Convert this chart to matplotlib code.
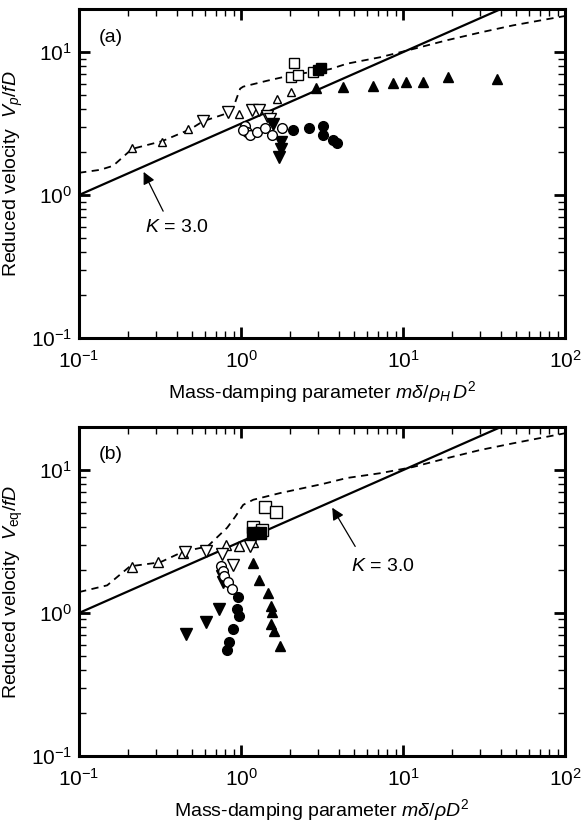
import numpy as np
import matplotlib.pyplot as plt

plt.rcParams['font.family'] = ['Liberation Sans', 'DejaVu Sans']
plt.rcParams['mathtext.fontset'] = 'custom'
plt.rcParams['mathtext.it'] = 'Liberation Sans:italic'
plt.rcParams['mathtext.rm'] = 'Liberation Sans'

# K = 3.0 line (same in both panels)
k_x = [0.1, 100]
k_y = [1.0, 31.6]

# ---- panel (a) ----
a_dash_x = [0.1, 0.135, 0.162, 0.187, 0.212, 0.325, 0.484, 0.582, 0.855, 0.918, 0.986,
            1.03, 1.445, 2.09, 3.54, 4.51, 7.2, 11.5, 18.6, 29.8, 47.9, 100]
a_dash_y = [1.43, 1.50, 1.60, 1.85, 2.10, 2.38, 2.88, 3.28, 3.79, 4.44, 5.55,
            5.73, 6.3, 6.93, 7.6, 8.3, 9.2, 10.5, 12.1, 13.7, 15.4, 17.9]

a_tri_open_x = [0.212, 0.325, 0.47, 0.97, 1.67, 2.04]
a_tri_open_y = [2.13, 2.34, 2.88, 3.66, 4.73, 5.28]
a_inv_open_x = [0.58, 0.83, 1.17, 1.29, 1.45, 1.5]
a_inv_open_y = [3.28, 3.79, 3.91, 3.91, 3.55, 3.38]
a_inv_fill_x = [1.58, 1.77, 1.75, 1.72]
a_inv_fill_y = [3.13, 2.34, 2.1, 1.85]
a_circ_open_x = [1.06, 1.09, 1.13, 1.25, 1.4, 1.55, 1.79, 1.03]
a_circ_open_y = [3.03, 2.75, 2.63, 2.75, 2.93, 2.63, 2.93, 2.85]
a_circ_fill_x = [2.09, 2.63, 3.2, 3.2, 3.7, 3.92]
a_circ_fill_y = [2.84, 2.93, 3.03, 2.63, 2.42, 2.31]
a_sq_open_x = [2.12, 2.04, 2.25, 2.78]
a_sq_open_y = [8.4, 6.7, 6.93, 7.28]
a_sq_fill_x = [2.99, 3.1]
a_sq_fill_y = [7.5, 7.74]
a_tri_fill_x = [2.9, 4.27, 6.53, 8.67, 10.4, 13.3, 19, 38]
a_tri_fill_y = [5.6, 5.73, 5.82, 6.1, 6.2, 6.2, 6.7, 6.5]

# ---- panel (b) ----
b_dash_x = [0.1, 0.149, 0.206, 0.316, 0.44, 0.62, 0.82, 0.92, 1.03, 1.19, 1.74,
            3.2, 4.5, 7.2, 11.5, 18.6, 29.8, 47.9, 100]
b_dash_y = [1.40, 1.56, 2.12, 2.26, 2.69, 2.92, 3.95, 4.72, 5.71, 6.2, 6.9,
            8.0, 8.8, 9.5, 10.5, 12.1, 13.8, 15.4, 18.1]

b_tri_open_x = [0.212, 0.307, 0.44, 0.81, 0.97, 1.19]
b_tri_open_y = [2.08, 2.26, 2.61, 3.01, 2.92, 3.16]
b_inv_open_x = [0.45, 0.61, 0.76, 0.89, 1.13]
b_inv_open_y = [2.65, 2.70, 2.57, 2.15, 2.92]
b_inv_fill_x = [0.73, 0.61, 0.457, 0.77, 0.76]
b_inv_fill_y = [1.07, 0.866, 0.715, 1.64, 1.80]
b_circ_open_x = [0.75, 0.77, 0.78, 0.83, 0.88]
b_circ_open_y = [2.13, 1.96, 1.81, 1.64, 1.47]
b_circ_fill_x = [0.96, 0.94, 0.97, 0.89, 0.84, 0.82]
b_circ_fill_y = [1.29, 1.07, 0.95, 0.77, 0.63, 0.55]
b_sq_open_x = [1.41, 1.64, 1.19, 1.35]
b_sq_open_y = [5.53, 5.1, 4.02, 3.78]
b_sq_fill_x = [1.19, 1.3]
b_sq_fill_y = [3.6, 3.65]
b_tri_fill_x = [1.19, 1.28, 1.47, 1.53, 1.55, 1.53, 1.59, 1.74]
b_tri_fill_y = [2.22, 1.69, 1.38, 1.12, 1.02, 0.84, 0.75, 0.59]


def panel(ax, dash_x, dash_y, pts, tag, ylab, xlab, arrow_tip, arrow_tail, ktext):
    ax.plot(k_x, k_y, 'k-', lw=1.6)
    ax.plot(dash_x, dash_y, 'k--', lw=1.3, dashes=(4, 3))
    for (x, y, m, filled, ms) in pts:
        ax.plot(x, y, m, ls='none', ms=ms, mec='k', mew=1.0,
                mfc='k' if filled else 'white')
    ax.annotate('', xy=arrow_tip, xytext=arrow_tail,
                arrowprops=dict(arrowstyle='-|>', color='k', lw=0.9,
                                mutation_scale=18, shrinkA=0, shrinkB=0))
    ax.text(ktext[0], ktext[1], '$K$ = 3.0', fontsize=14, ha='center', va='center')
    ax.text(0.04, 0.915, tag, transform=ax.transAxes, fontsize=14, va='center')
    ax.set_xscale('log')
    ax.set_yscale('log')
    ax.set_xlim(0.1, 100)
    ax.set_ylim(0.1, 20)
    ax.set_yticks([0.1, 1, 10])
    ax.set_xticks([0.1, 1, 10, 100])
    ax.tick_params(which='both', direction='in', top=True, right=True, labelsize=15)
    ax.tick_params(which='major', length=8, width=2)
    ax.tick_params(which='minor', length=5, width=1)
    ax.tick_params(axis='x', pad=9)
    ax.tick_params(axis='y', pad=5)
    for s in ax.spines.values():
        s.set_linewidth(2.2)
    ax.set_ylabel(ylab, fontsize=14, labelpad=4)
    ax.set_xlabel(xlab, fontsize=14, labelpad=5)


fig = plt.figure(figsize=(5.82, 8.26), dpi=100)
ax1 = fig.add_axes([0.136, 0.591, 0.835, 0.398])
ax2 = fig.add_axes([0.136, 0.085, 0.835, 0.398])

pts_a = [
    (a_tri_open_x, a_tri_open_y, '^', False, 6),
    (a_inv_open_x, a_inv_open_y, 'v', False, 8),
    (a_inv_fill_x, a_inv_fill_y, 'v', True, 8),
    (a_circ_open_x, a_circ_open_y, 'o', False, 7),
    (a_circ_fill_x, a_circ_fill_y, 'o', True, 7),
    (a_sq_open_x, a_sq_open_y, 's', False, 7),
    (a_sq_fill_x, a_sq_fill_y, 's', True, 7),
    (a_tri_fill_x, a_tri_fill_y, '^', True, 7),
]
pts_b = [
    (b_tri_open_x, b_tri_open_y, '^', False, 7),
    (b_inv_open_x, b_inv_open_y, 'v', False, 8),
    (b_inv_fill_x, b_inv_fill_y, 'v', True, 8),
    (b_circ_open_x, b_circ_open_y, 'o', False, 7),
    (b_circ_fill_x, b_circ_fill_y, 'o', True, 7),
    (b_sq_open_x, b_sq_open_y, 's', False, 8),
    (b_sq_fill_x, b_sq_fill_y, 's', True, 8),
    (b_tri_fill_x, b_tri_fill_y, '^', True, 7),
]

panel(ax1, a_dash_x, a_dash_y, pts_a, '(a)',
      r'Reduced velocity  $V_p/fD$',
      r'Mass-damping parameter $m\delta/\rho_H\,D^2$',
      (0.25, 1.45), (0.33, 0.77), (0.40, 0.59))
panel(ax2, b_dash_x, b_dash_y, pts_b, '(b)',
      r'Reduced velocity  $V_{\rm eq}/fD$',
      r'Mass-damping parameter $m\delta/\rho D^2$',
      (3.65, 5.45), (5.06, 2.92), (7.5, 2.12))

fig.savefig('out.png', dpi=100)
